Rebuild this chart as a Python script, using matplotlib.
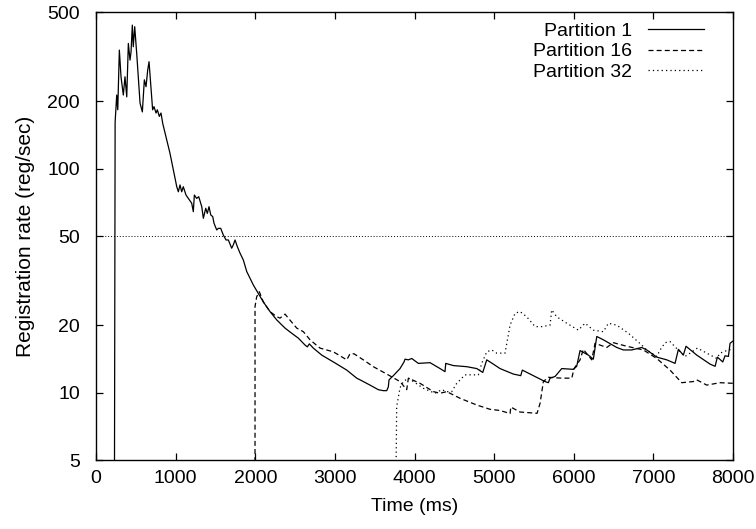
import matplotlib.pyplot as plt

plt.rcParams['font.family'] = ['Liberation Sans', 'DejaVu Sans']

# Partition 1 (solid)
p1_time = [232, 240, 260, 273, 293, 314, 343, 364, 386, 406, 427, 440, 456, 468, 486, 511, 531,
           553, 582, 607, 628, 649, 666, 678, 700, 711, 728, 754, 770, 795, 816, 838, 867, 888,
           929, 971, 1014, 1034, 1055, 1076, 1096, 1130, 1159, 1202, 1222, 1235, 1264, 1290, 1328,
           1348, 1378, 1398, 1419, 1441, 1466, 1482, 1516, 1536, 1566, 1599, 1633, 1662, 1704,
           1724, 1746, 1775, 1809, 1850, 1893, 1976, 2038, 2101, 2185, 2270, 2374, 2458, 2541,
           2625, 2654, 2679, 2729, 2835, 2981, 3149, 3274, 3316, 3441, 3546, 3608, 3651, 3671,
           3680, 3734, 3818, 3868, 3881, 3923, 3965, 4048, 4195, 4321, 4383, 4392, 4488, 4656,
           4782, 4857, 4907, 4990, 5074, 5241, 5334, 5354, 5492, 5639, 5681, 5702, 5765, 5849,
           5995, 6037, 6079, 6183, 6246, 6289, 6372, 6540, 6623, 6728, 6854, 6916, 7042, 7168,
           7272, 7314, 7376, 7410, 7545, 7712, 7775, 7804, 7871, 7900, 7942, 7963, 8001]
p1_rate = [4.5, 161, 213, 183, 338, 257, 213, 257, 209, 362, 305, 332, 437, 350, 430, 327, 257,
           196, 179, 249, 232, 275, 300, 262, 202, 183, 189, 177, 183, 171, 177, 159, 144, 134,
           117, 98.5, 83, 78.8, 84.5, 78.8, 83, 76.2, 73.6, 70, 64.2, 76.2, 73.6, 74.9, 67.6,
           60, 66.5, 63.1, 67.6, 62.1, 61, 57, 53.2, 54.1, 54.1, 50.5, 48, 48, 44.1,
           45.6, 48, 44.8, 41.9, 39.1, 34.7, 30.2, 27.7, 25.4, 23.0, 21.1, 19.4, 18.4, 17.5,
           16.3, 16.0, 16.5, 15.8, 14.7, 13.7, 12.6, 11.6, 11.4, 10.8, 10.3, 10.2, 10.2, 10.6,
           11.4, 11.9, 12.8, 13.7, 14.1, 14.0, 14.2, 13.5, 13.6, 12.8, 12.4, 13.5, 13.2, 13.05,
           12.8, 12.3, 14.0, 13.4, 12.8, 12.1, 11.9, 12.6, 11.9, 11.2, 11.07, 11.6, 11.8, 12.8,
           12.7, 13.1, 15.4, 14.7, 14.1, 17.8, 17.2, 15.9, 15.5, 15.5, 15.9, 15.5, 14.4, 14.0,
           13.5, 15.6, 14.7, 16.1, 14.7, 13.4, 13.1, 14.4, 13.7, 14.6, 14.5, 16.6, 17.0]

# Partition 16 (dashed)
p16_time = [1997, 1997, 2018, 2051, 2101, 2185, 2270, 2311, 2374, 2415, 2521, 2604, 2688, 2813,
            2981, 3149, 3190, 3240, 3357, 3483, 3651, 3818, 3902, 3923, 4069, 4237, 4321, 4405,
            4572, 4782, 4949, 5074, 5200, 5209, 5325, 5539, 5577, 5618, 5681, 5849, 5975, 6004,
            6079, 6120, 6226, 6267, 6414, 6498, 6665, 6874, 7042, 7209, 7356, 7502, 7544, 7670,
            7837, 8001]
p16_rate = [4.5, 24.2, 26.8, 28.2, 25.4, 23.0, 21.8, 21.5, 22.4, 21.5, 19.4, 18.7, 17.2, 15.8,
            15.2, 14.0, 14.9, 14.9, 14.0, 13.05, 12.1, 11.2, 10.3, 11.6, 11.0, 10.1, 9.93, 10.1,
            9.43, 8.8, 8.42, 8.32, 8.06, 8.62, 8.19, 8.08, 8.96, 11.2, 11.7, 11.6, 11.6, 12.8,
            14.0, 15.6, 14.0, 16.6, 15.9, 16.7, 16.1, 15.5, 14.2, 12.6, 11.07, 11.2, 11.4, 10.8,
            11.07, 11.0]

# Partition 32 (dotted)
p32_time = [3768, 3776, 3818, 3860, 3923, 3985, 4111, 4258, 4342, 4405, 4468, 4530, 4635, 4802,
            4844, 4907, 4970, 5032, 5137, 5200, 5263, 5325, 5409, 5514, 5598, 5702, 5723, 5786,
            5912, 6058, 6142, 6246, 6372, 6435, 6540, 6686, 6854, 6916, 7042, 7084, 7147, 7209,
            7272, 7398, 7461, 7553, 7670, 7796, 7837, 7942, 8001]
p32_rate = [4.5, 8.65, 10.5, 11.2, 11.6, 11.2, 10.45, 9.93, 10.3, 10.1, 10.1, 11.0, 12.0, 12.0,
            13.5, 15.2, 15.5, 15.0, 15.0, 20.0, 22.6, 23.0, 21.8, 19.7, 19.7, 20.0, 23.4, 21.8,
            20.4, 19.0, 20.4, 19.0, 18.7, 20.4, 20.0, 18.4, 16.3, 15.5, 14.5, 15.5, 16.7, 16.9,
            16.0, 14.5, 15.0, 15.8, 15.0, 14.2, 15.0, 15.5, 15.6]

threshold = 50
y_ticks = [5, 10, 20, 50, 100, 200, 500]
x_ticks = [0, 1000, 2000, 3000, 4000, 5000, 6000, 7000, 8000]

fig = plt.figure(figsize=(7.56, 5.29), dpi=100)
ax = fig.add_axes([0.127, 0.1304, 0.8426, 0.8469])

ax.plot(p1_time, p1_rate, color='black', linewidth=0.9, linestyle='-', label='Partition 1')
ax.plot(p16_time, p16_rate, color='black', linewidth=0.9, linestyle=(0, (4, 2.5)), label='Partition 16')
ax.plot(p32_time, p32_rate, color='black', linewidth=0.9, linestyle=(0, (1, 2.5)), label='Partition 32')
ax.axhline(threshold, color='black', linewidth=0.7, linestyle=(0, (1, 2)))

ax.set_yscale('log')
ax.set_xlim(0, 8000)
ax.set_ylim(5, 500)
ax.set_yticks(y_ticks)
ax.set_yticklabels([str(v) for v in y_ticks])
ax.minorticks_off()
ax.set_xticks(x_ticks)
ax.set_xticklabels([str(v) for v in x_ticks])

ax.tick_params(direction='in', length=5, width=0.9, top=True, right=True, labelsize=14)
ax.tick_params(axis='y', pad=11.5)
ax.tick_params(axis='x', pad=7)
for sp in ax.spines.values():
    sp.set_linewidth(1.0)

ax.set_xlabel('Time (ms)', fontsize=14, labelpad=8)
ax.set_ylabel('Registration rate (reg/sec)', fontsize=15, labelpad=9)

ax.legend(loc='upper right', bbox_to_anchor=(0.9545, 0.977), frameon=False, markerfirst=False,
          handlelength=2.9, handletextpad=0.8, labelspacing=0.15, fontsize=14,
          borderaxespad=0, borderpad=0)

fig.savefig('out.png', dpi=100)
